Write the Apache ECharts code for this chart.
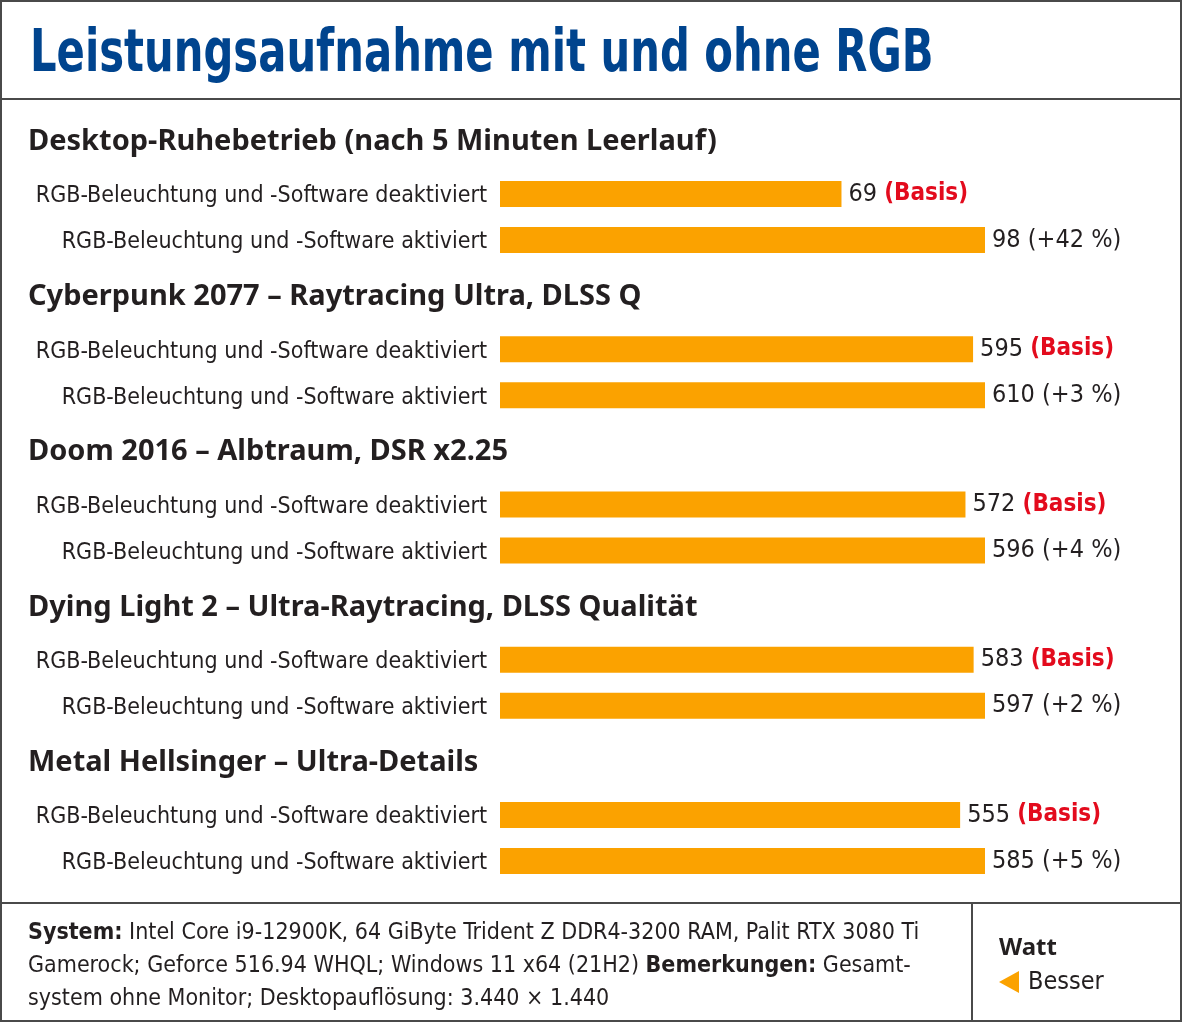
<!DOCTYPE html>
<html><head><meta charset="utf-8">
<script src="https://cdn.jsdelivr.net/npm/echarts@6/dist/echarts.min.js"></script>
<style>html,body{margin:0;padding:0;background:#fff}#c{width:1183px;height:1024px}</style>
</head><body><div id="c"></div>
<script>
const chartTitle = 'Leistungsaufnahme mit und ohne RGB';
const groups = [
  'Desktop-Ruhebetrieb (nach 5 Minuten Leerlauf)',
  'Cyberpunk 2077 – Raytracing Ultra, DLSS Q',
  'Doom 2016 – Albtraum, DSR x2.25',
  'Dying Light 2 – Ultra-Raytracing, DLSS Qualität',
  'Metal Hellsinger – Ultra-Details'
];
const rowLabels = ['RGB-Beleuchtung und -Software deaktiviert', 'RGB-Beleuchtung und -Software aktiviert'];
const offValues = [69, 595, 572, 583, 555];
const onValues = [98, 610, 596, 597, 585];
const baseText = '(Basis)';
const unitText = 'Watt';
const betterText = 'Besser';

const COND = "'DejaVu Sans Condensed','Liberation Sans Narrow',sans-serif";
const SANS = "'Noto Sans','Open Sans',sans-serif";
const DARK = '#231f20';
const ORANGE = '#fba200';
const RED = '#e30b1d';
const BLUE = '#00448e';

const chart = echarts.init(document.getElementById('c'), null, {renderer: 'canvas'});
const grids = [], xAxes = [], yAxes = [], series = [], titles = [];
groups.forEach((g, i) => {
  const top = 171 + i * 155.25;
  grids.push({left: 500, right: 198, top: top, height: 92, containLabel: false, outerBoundsMode: 'none'});
  const maxV = Math.max(offValues[i], onValues[i]);
  xAxes.push({gridIndex: i, type: 'value', min: 0, max: maxV, show: false});
  yAxes.push({gridIndex: i, type: 'category', inverse: true, data: rowLabels,
    axisLine: {show: false}, axisTick: {show: false}, splitLine: {show: false},
    axisLabel: {margin: 13, color: DARK, fontFamily: COND, fontSize: 23,
      formatter: v => '{a|' + v + '}',
      rich: {a: {color: DARK, fontFamily: COND, fontSize: 23, padding: [5, 0, 0, 0]}}}});
  const pct = Math.round((onValues[i] / offValues[i] - 1) * 100);
  series.push({type: 'bar', xAxisIndex: i, yAxisIndex: i, barWidth: 26, silent: true,
    itemStyle: {color: ORANGE},
    data: [
      {value: offValues[i], label: {formatter: offValues[i] + ' {b|' + baseText + '}'}},
      {value: onValues[i], label: {formatter: onValues[i] + ' (+' + pct + ' %)'}}
    ],
    label: {show: true, position: 'right', distance: 7, color: DARK, fontFamily: COND, fontSize: 25,
      rich: {b: {color: RED, fontFamily: COND, fontWeight: 'bold', fontSize: 24}}}
  });
  titles.push({text: g, left: 28, top: top - 44, padding: 0,
    textStyle: {fontFamily: SANS, fontWeight: 'bold', fontSize: 29, color: DARK}});
});

const graphic = [
  {type: 'rect', shape: {x: 1, y: 1, width: 1180, height: 1020}, style: {fill: 'none', stroke: '#4a4a4a', lineWidth: 2}, silent: true},
  {type: 'line', shape: {x1: 1, y1: 99, x2: 1181, y2: 99}, style: {stroke: '#4a4a4a', lineWidth: 2}},
  {type: 'line', shape: {x1: 1, y1: 903, x2: 1181, y2: 903}, style: {stroke: '#4a4a4a', lineWidth: 2}},
  {type: 'line', shape: {x1: 972, y1: 903, x2: 972, y2: 1021}, style: {stroke: '#4a4a4a', lineWidth: 2}},
  {type: 'text', x: 30, y: 56, scaleX: 0.8, style: {text: chartTitle, fontFamily: COND, fontWeight: 'bold', fontSize: 58,
    fill: BLUE, verticalAlign: 'middle', align: 'left'}},
  {type: 'text', left: 28, top: 917, style: {
    text: '{b|System:} Intel Core i9-12900K, 64 GiByte Trident Z DDR4-3200 RAM, Palit RTX 3080 Ti\nGamerock; Geforce 516.94 WHQL; Windows 11 x64 (21H2) {b|Bemerkungen:} Gesamt-\nsystem ohne Monitor; Desktopauflösung: 3.440 × 1.440',
    fontFamily: COND, fontSize: 23, lineHeight: 33, fill: DARK,
    rich: {b: {fontFamily: COND, fontWeight: 'bold', fontSize: 23, lineHeight: 33, fill: DARK}}}},
  {type: 'text', left: 999, top: 936, style: {text: unitText, fontFamily: SANS, fontWeight: 'bold', fontSize: 24, fill: DARK}},
  {type: 'polygon', shape: {points: [[999, 982], [1019, 971], [1019, 993]]}, style: {fill: ORANGE}},
  {type: 'text', left: 1028, top: 970, style: {text: betterText, fontFamily: COND, fontSize: 25, fill: DARK}}
];

chart.setOption({
  animation: false,
  backgroundColor: '#fff',
  title: titles,
  grid: grids, xAxis: xAxes, yAxis: yAxes, series: series,
  graphic: graphic
});
</script></body></html>
